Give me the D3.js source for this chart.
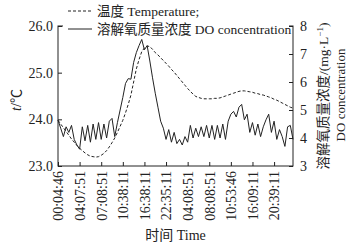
<!DOCTYPE html>
<html>
<head>
<meta charset="utf-8">
<script src="https://d3js.org/d3.v7.min.js"></script>
<style>
  body { margin: 0; background: #fff; }
  text { font-family: "Liberation Serif", "Noto Sans CJK SC", serif; fill: #222; }
</style>
</head>
<body>
<script>
// tick labels shown on the time axis (one every 8 samples)
const timeLabels = ["00:04:46", "04:07:51", "07:08:51", "10:38:11", "16:38:11", "22:35:11",
                    "04:08:51", "08:08:51", "10:53:46", "16:09:11", "20:39:11"];
const labelStep = 8;

// water temperature, °C (dashed)
const temperature = [
  23.98, 23.90, 23.82, 23.74, 23.66, 23.58, 23.51, 23.44, 23.38, 23.33,
  23.28, 23.24, 23.21, 23.20, 23.19, 23.20, 23.23, 23.27, 23.33, 23.41,
  23.50, 23.60, 23.72, 23.85, 23.98, 24.14, 24.32, 24.52, 24.80, 25.08,
  25.28, 25.45, 25.53, 25.57, 25.56, 25.50, 25.43, 25.38, 25.32, 25.26,
  25.20, 25.14, 25.07, 25.01, 24.94, 24.87, 24.80, 24.73, 24.66, 24.60,
  24.54, 24.49, 24.47, 24.45, 24.44, 24.44, 24.44, 24.44, 24.45, 24.45,
  24.46, 24.48, 24.50, 24.52, 24.54, 24.56, 24.58, 24.60, 24.61, 24.61,
  24.60, 24.59, 24.58, 24.56, 24.55, 24.53, 24.52, 24.50, 24.48, 24.46,
  24.43, 24.41, 24.38, 24.35, 24.32, 24.29, 24.26, 24.24
];

// dissolved oxygen, mg/L (solid)
const oxygen = [
  4.64, 4.35, 4.05, 4.40, 4.20, 4.45, 3.95, 3.75, 3.60, 4.40,
  3.90, 4.45, 3.85, 4.50, 3.95, 4.55, 3.95, 4.50, 4.00, 4.60,
  4.70, 4.05, 4.55, 5.00, 5.45, 5.95, 6.12, 6.10, 6.70, 7.05,
  7.30, 7.52, 7.15, 7.30, 6.75, 6.15, 5.60, 5.10, 4.60, 4.35,
  3.95, 4.30, 3.85, 4.20, 3.80, 3.95, 3.75, 4.05, 3.85, 4.45,
  4.00, 4.35, 4.05, 4.40, 4.05, 4.45, 4.00, 4.45, 3.95, 4.45,
  4.00, 4.50, 3.95, 4.60, 4.85, 4.95, 4.75, 5.10, 5.20, 4.65,
  4.85, 4.20, 4.55, 4.10, 4.50, 4.05, 4.40, 4.65, 4.85, 4.20,
  4.60, 3.95, 4.30, 4.05, 3.70, 4.40, 4.45, 3.95
];

const tempTicks = [23, 24, 25, 26];
const doTicks = [3, 4, 5, 6, 7, 8];

const width = 358, height = 246;
const mLeft = 58, mRight = 293, mTop = 26, mBottom = 166;

const svg = d3.select("body").append("svg")
    .attr("width", width)
    .attr("height", height);

const x = d3.scaleLinear().domain([0, temperature.length - 1]).range([mLeft, mRight]);
const yT = d3.scaleLinear().domain([23, 26]).range([mBottom, mTop]);
const yO = d3.scaleLinear().domain([3, 8]).range([mBottom, mTop]);

// frame
svg.append("rect")
    .attr("x", mLeft).attr("y", mTop)
    .attr("width", mRight - mLeft).attr("height", mBottom - mTop)
    .attr("fill", "none").attr("stroke", "#222").attr("stroke-width", 1);

// lines
svg.append("path")
    .datum(temperature)
    .attr("fill", "none")
    .attr("stroke", "#222")
    .attr("stroke-width", 1)
    .attr("stroke-dasharray", "3,2")
    .attr("d", d3.line().x((d, i) => x(i)).y(d => yT(d)));

svg.append("path")
    .datum(oxygen)
    .attr("fill", "none")
    .attr("stroke", "#222")
    .attr("stroke-width", 1)
    .attr("d", d3.line().x((d, i) => x(i)).y(d => yO(d)));

// axes
const axL = svg.append("g")
    .attr("transform", `translate(${mLeft},0)`)
    .call(d3.axisLeft(yT).tickValues(tempTicks).tickFormat(d3.format(".1f"))
        .tickSizeInner(-4).tickSizeOuter(0).tickPadding(5));

const axR = svg.append("g")
    .attr("transform", `translate(${mRight},0)`)
    .call(d3.axisRight(yO).tickValues(doTicks).tickFormat(d3.format("d"))
        .tickSizeInner(-4).tickSizeOuter(0).tickPadding(7));

const xTicks = timeLabels.map((d, i) => i * labelStep);
const axB = svg.append("g")
    .attr("transform", `translate(0,${mBottom})`)
    .call(d3.axisBottom(x).tickValues(xTicks).tickFormat((d, i) => timeLabels[i])
        .tickSizeInner(-4).tickSizeOuter(0));

axB.selectAll("text")
    .attr("transform", "rotate(-90)")
    .attr("text-anchor", "end")
    .attr("x", -5).attr("y", 0).attr("dy", "0.35em");

[axL, axR, axB].forEach(g => {
  g.select(".domain").remove();
  g.selectAll("line").attr("stroke", "#222");
  g.selectAll("text").style("font-size", "14px").attr("fill", "#222");
});

// axis titles
svg.append("text")
    .attr("transform", "translate(21,100) rotate(-90)")
    .attr("text-anchor", "middle")
    .style("font-size", "14px")
    .html('<tspan font-style="italic">t</tspan>/℃');

svg.append("text")
    .attr("transform", "translate(328,96) rotate(-90)")
    .attr("text-anchor", "middle")
    .style("font-size", "13.5px")
    .html('溶解氧质量浓度/(mg·L<tspan dy="-5" font-size="9px">−1</tspan><tspan dy="5">)</tspan>');

svg.append("text")
    .attr("transform", "translate(345,95) rotate(-90)")
    .attr("text-anchor", "middle")
    .style("font-size", "13px")
    .text("DO concentration");

svg.append("text")
    .attr("x", (mLeft + mRight) / 2).attr("y", 240)
    .attr("text-anchor", "middle")
    .style("font-size", "14px")
    .text("时间 Time");

// legend
const legend = svg.append("g");
legend.append("rect")
    .attr("x", 63).attr("y", 2).attr("width", 226).attr("height", 34)
    .attr("fill", "#fff");
const items = [
  { label: "温度 Temperature;", dash: "3,2", y: 11 },
  { label: "溶解氧质量浓度 DO concentration", dash: null, y: 29 }
];
items.forEach(it => {
  legend.append("line")
      .attr("x1", 68).attr("x2", 92).attr("y1", it.y).attr("y2", it.y)
      .attr("stroke", "#222").attr("stroke-width", 1)
      .attr("stroke-dasharray", it.dash);
  legend.append("text")
      .attr("x", 97).attr("y", it.y).attr("dy", "0.35em")
      .style("font-size", "13.5px")
      .text(it.label);
});
</script>
</body>
</html>
